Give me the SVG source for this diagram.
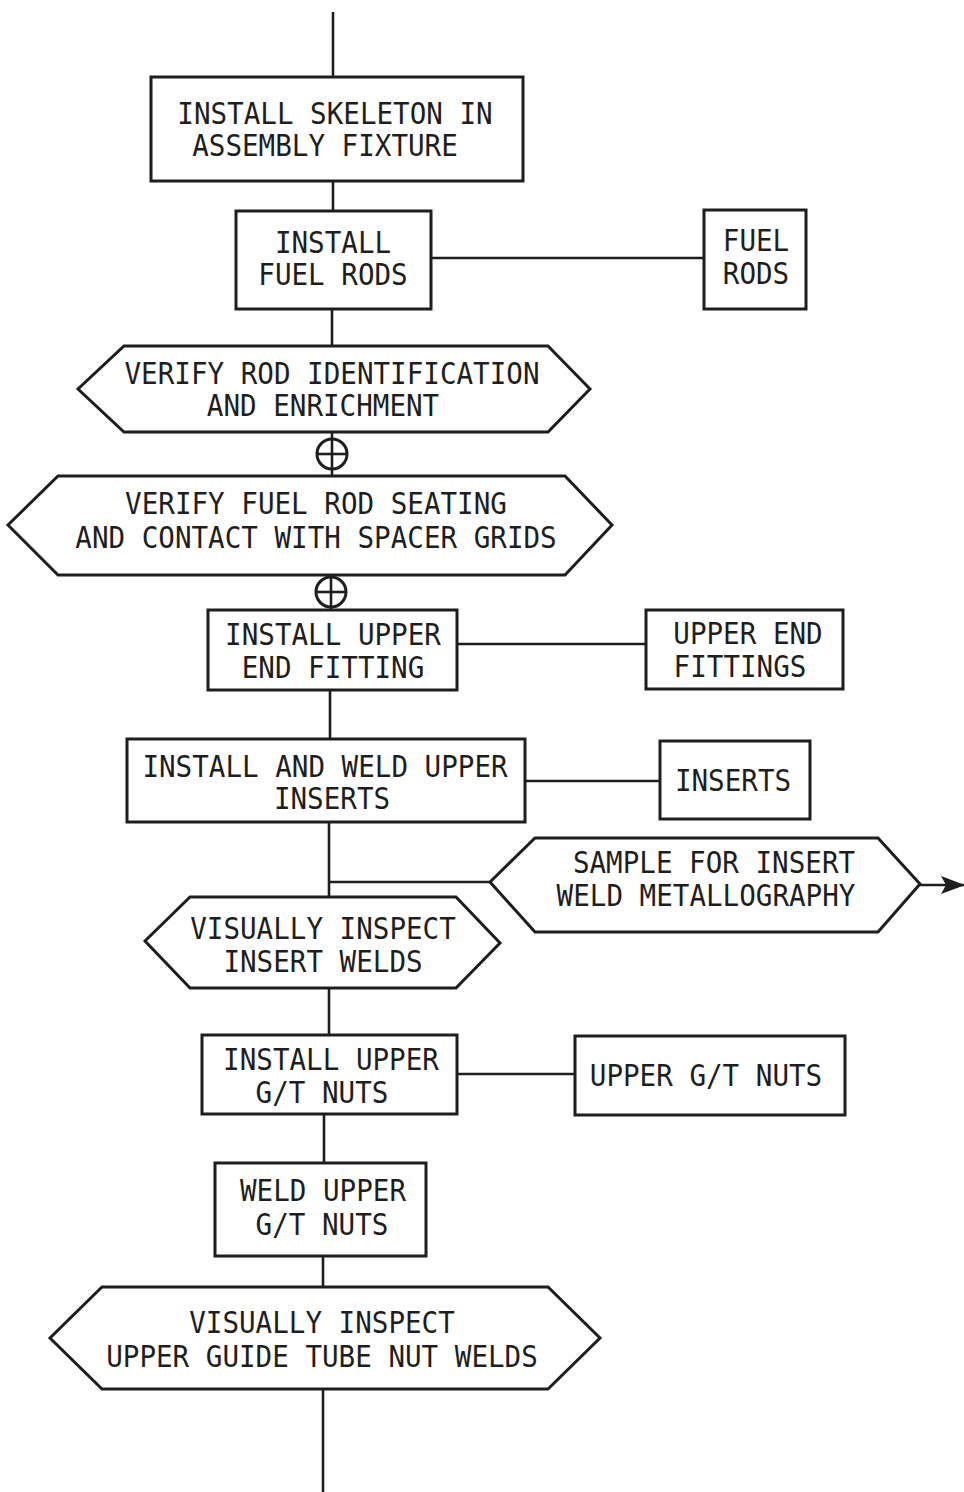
<svg xmlns="http://www.w3.org/2000/svg" width="964" height="1492" viewBox="0 0 964 1492">
  <style>
    .shape { fill: none; stroke: #1e1e1e; stroke-width: 3; stroke-linejoin: miter; }
    .link { fill: none; stroke: #1e1e1e; stroke-width: 2.6; }
    .lbl { font-family: "DejaVu Sans Mono", "Liberation Mono", monospace; font-size: 30px; fill: #1e1e1e; text-anchor: middle; }
  </style>
  <defs>
    <marker id="arrow" markerWidth="24" markerHeight="18" refX="23" refY="9" orient="auto" markerUnits="userSpaceOnUse">
      <path d="M0,0 L24,9 L0,18 L5,9 Z" fill="#1e1e1e"/>
    </marker>
  </defs>
  <rect width="964" height="1492" fill="#ffffff"/>

  <!-- connectors -->
  <g id="connectors">
    <line class="link" x1="333" y1="12" x2="333" y2="77"/>
    <line class="link" x1="333" y1="181" x2="333" y2="211"/>
    <line class="link" x1="431" y1="258" x2="704" y2="258"/>
    <line class="link" x1="332" y1="309" x2="332" y2="346"/>
    <line class="link" x1="332" y1="432" x2="332" y2="476"/>
    <line class="link" x1="331" y1="575" x2="331" y2="610"/>
    <line class="link" x1="457" y1="644" x2="646" y2="644"/>
    <line class="link" x1="330" y1="690" x2="330" y2="739"/>
    <line class="link" x1="525" y1="781" x2="660" y2="781"/>
    <line class="link" x1="329" y1="822" x2="329" y2="897"/>
    <line class="link" x1="329" y1="882" x2="490" y2="882"/>
    <line class="link" x1="920" y1="885" x2="964" y2="885" stroke-width="3.2" marker-end="url(#arrow)"/>
    <line class="link" x1="329" y1="988" x2="329" y2="1035"/>
    <line class="link" x1="457" y1="1074" x2="575" y2="1074"/>
    <line class="link" x1="324" y1="1114" x2="324" y2="1163"/>
    <line class="link" x1="323" y1="1256" x2="323" y2="1287"/>
    <line class="link" x1="323" y1="1389" x2="323" y2="1492"/>
  </g>

  <!-- junction symbols on the main line -->
  <g id="junction-1">
    <circle class="shape" cx="332" cy="454" r="15" stroke-width="2.4"/>
    <line class="link" x1="317" y1="454" x2="347" y2="454" stroke-width="2.2"/>
  </g>
  <g id="junction-2">
    <circle class="shape" cx="331" cy="592" r="15" stroke-width="2.4"/>
    <line class="link" x1="316" y1="592" x2="346" y2="592" stroke-width="2.2"/>
  </g>

  <g id="install-skeleton">
    <rect class="shape" x="151" y="77" width="372" height="104"/>
    <text class="lbl" x="335" y="124" textLength="315.4" lengthAdjust="spacingAndGlyphs">INSTALL SKELETON IN</text>
    <text class="lbl" x="325" y="156" textLength="265.6" lengthAdjust="spacingAndGlyphs">ASSEMBLY FIXTURE</text>
  </g>

  <g id="install-fuel-rods">
    <rect class="shape" x="236" y="211" width="195" height="98"/>
    <text class="lbl" x="333" y="253" textLength="116.2" lengthAdjust="spacingAndGlyphs">INSTALL</text>
    <text class="lbl" x="333" y="285" textLength="149.4" lengthAdjust="spacingAndGlyphs">FUEL RODS</text>
  </g>

  <g id="fuel-rods">
    <rect class="shape" x="704" y="210" width="102" height="99"/>
    <text class="lbl" x="756" y="251" textLength="66.4" lengthAdjust="spacingAndGlyphs">FUEL</text>
    <text class="lbl" x="756" y="284" textLength="66.4" lengthAdjust="spacingAndGlyphs">RODS</text>
  </g>

  <g id="verify-rod-id">
    <polygon class="shape" points="124,346 548,346 590,389 548,432 124,432 78,389"/>
    <text class="lbl" x="332" y="384" textLength="415" lengthAdjust="spacingAndGlyphs">VERIFY ROD IDENTIFICATION</text>
    <text class="lbl" x="323" y="416" textLength="232.4" lengthAdjust="spacingAndGlyphs">AND ENRICHMENT</text>
  </g>

  <g id="verify-seating">
    <polygon class="shape" points="58,476 565,476 612,525 565,575 58,575 8,525"/>
    <text class="lbl" x="316" y="514" textLength="381.8" lengthAdjust="spacingAndGlyphs">VERIFY FUEL ROD SEATING</text>
    <text class="lbl" x="316" y="548" textLength="481.4" lengthAdjust="spacingAndGlyphs">AND CONTACT WITH SPACER GRIDS</text>
  </g>

  <g id="install-upper-end-fitting">
    <rect class="shape" x="208" y="610" width="249" height="80"/>
    <text class="lbl" x="333" y="645" textLength="215.8" lengthAdjust="spacingAndGlyphs">INSTALL UPPER</text>
    <text class="lbl" x="333" y="678" textLength="182.6" lengthAdjust="spacingAndGlyphs">END FITTING</text>
  </g>

  <g id="upper-end-fittings">
    <rect class="shape" x="646" y="610" width="197" height="79"/>
    <text class="lbl" x="748" y="644" textLength="149.4" lengthAdjust="spacingAndGlyphs">UPPER END</text>
    <text class="lbl" x="740" y="677" textLength="132.8" lengthAdjust="spacingAndGlyphs">FITTINGS</text>
  </g>

  <g id="install-weld-inserts">
    <rect class="shape" x="127" y="739" width="398" height="83"/>
    <text class="lbl" x="325" y="777" textLength="365.2" lengthAdjust="spacingAndGlyphs">INSTALL AND WELD UPPER</text>
    <text class="lbl" x="332" y="809" textLength="116.2" lengthAdjust="spacingAndGlyphs">INSERTS</text>
  </g>

  <g id="inserts">
    <rect class="shape" x="660" y="741" width="150" height="78"/>
    <text class="lbl" x="733" y="791" textLength="116.2" lengthAdjust="spacingAndGlyphs">INSERTS</text>
  </g>

  <g id="sample-metallography">
    <polygon class="shape" points="535,838 878,838 920,884 878,932 535,932 490,882"/>
    <text class="lbl" x="714" y="873" textLength="282.2" lengthAdjust="spacingAndGlyphs">SAMPLE FOR INSERT</text>
    <text class="lbl" x="706" y="906" textLength="298.8" lengthAdjust="spacingAndGlyphs">WELD METALLOGRAPHY</text>
  </g>

  <g id="inspect-insert-welds">
    <polygon class="shape" points="190,897 456,897 500,943 456,988 190,988 145,941"/>
    <text class="lbl" x="323" y="939" textLength="265.6" lengthAdjust="spacingAndGlyphs">VISUALLY INSPECT</text>
    <text class="lbl" x="323" y="972" textLength="199.2" lengthAdjust="spacingAndGlyphs">INSERT WELDS</text>
  </g>

  <g id="install-gt-nuts">
    <rect class="shape" x="202" y="1035" width="255" height="79"/>
    <text class="lbl" x="331" y="1070" textLength="215.8" lengthAdjust="spacingAndGlyphs">INSTALL UPPER</text>
    <text class="lbl" x="322" y="1103" textLength="132.8" lengthAdjust="spacingAndGlyphs">G/T NUTS</text>
  </g>

  <g id="upper-gt-nuts">
    <rect class="shape" x="575" y="1036" width="270" height="79"/>
    <text class="lbl" x="706" y="1086" textLength="232.4" lengthAdjust="spacingAndGlyphs">UPPER G/T NUTS</text>
  </g>

  <g id="weld-gt-nuts">
    <rect class="shape" x="215" y="1163" width="211" height="93"/>
    <text class="lbl" x="323" y="1201" textLength="166" lengthAdjust="spacingAndGlyphs">WELD UPPER</text>
    <text class="lbl" x="322" y="1235" textLength="132.8" lengthAdjust="spacingAndGlyphs">G/T NUTS</text>
  </g>

  <g id="inspect-gt-nut-welds">
    <polygon class="shape" points="102,1287 548,1287 600,1338 548,1389 102,1389 50,1338"/>
    <text class="lbl" x="322" y="1333" textLength="265.6" lengthAdjust="spacingAndGlyphs">VISUALLY INSPECT</text>
    <text class="lbl" x="322" y="1367" textLength="431.6" lengthAdjust="spacingAndGlyphs">UPPER GUIDE TUBE NUT WELDS</text>
  </g>
</svg>
